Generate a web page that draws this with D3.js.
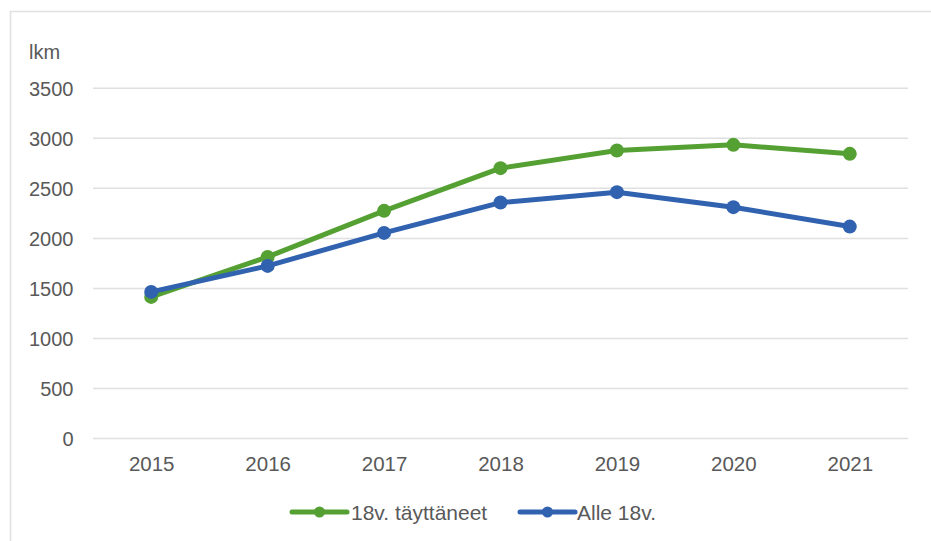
<!DOCTYPE html>
<html>
<head>
<meta charset="utf-8">
<script src="https://cdn.jsdelivr.net/npm/d3@7"></script>
<style>
html,body{margin:0;padding:0;background:#fff;}
svg{display:block;}
text{font-family:"Liberation Sans",Arial,sans-serif;fill:#595959;}
</style>
</head>
<body>
<svg id="chart" width="931" height="541"></svg>
<script>
const years = ["2015","2016","2017","2018","2019","2020","2021"];
const adults = [1415, 1815, 2275, 2702, 2878, 2935, 2845];
const minors = [1465, 1725, 2055, 2358, 2462, 2312, 2118];
const yTicks = [0, 500, 1000, 1500, 2000, 2500, 3000, 3500];
const seriesNames = ["18v. täyttäneet", "Alle 18v."];
const unitLabel = "lkm";

const colors = ["#55a033", "#3162b0"];
const series = [
  {name: seriesNames[0], values: adults, color: colors[0]},
  {name: seriesNames[1], values: minors, color: colors[1]}
];

const svg = d3.select("#chart");
const FONT = '"Liberation Sans",Arial,sans-serif';

// outer border
svg.append("rect")
  .attr("x", 10.5).attr("y", 11.5)
  .attr("width", 960).attr("height", 560)
  .attr("fill", "none").attr("stroke", "#e0e0e0").attr("stroke-width", 1.5);

const plot = {left: 93, right: 908, top: 88.3, bottom: 438.5};

const x = d3.scalePoint().domain(years).range([plot.left, plot.right]).padding(0.5);
const y = d3.scaleLinear().domain([0, 3500]).range([plot.bottom, plot.top]);

// gridlines
svg.append("g").selectAll("line").data(yTicks).join("line")
  .attr("x1", plot.left).attr("x2", plot.right)
  .attr("y1", d => y(d)).attr("y2", d => y(d))
  .attr("stroke", "#e0e0e0").attr("stroke-width", 1.5);

// y axis labels
const yAxis = d3.axisLeft(y).tickValues(yTicks).tickFormat(d3.format("d")).tickSize(0).tickPadding(0);
const yg = svg.append("g").attr("transform", `translate(73.5,0)`).call(yAxis);
yg.select(".domain").remove();
yg.selectAll("text").attr("font-size", 20).attr("fill", "#595959")
  .attr("font-family", FONT).attr("dy", "0.36em");

// x axis labels
const xAxis = d3.axisBottom(x).tickSize(0).tickPadding(0);
const xg = svg.append("g").attr("transform", `translate(0,456)`).call(xAxis);
xg.select(".domain").remove();
xg.selectAll("text").attr("font-size", 20.5).attr("fill", "#595959")
  .attr("font-family", FONT).attr("dy", "0.72em");

// unit label
svg.append("text").attr("x", 29).attr("y", 58.5).attr("font-size", 20).text(unitLabel);

// lines
const line = d3.line().x((d, i) => x(years[i])).y(d => y(d));
series.forEach(s => {
  svg.append("path").datum(s.values)
    .attr("d", line).attr("fill", "none")
    .attr("stroke", s.color).attr("stroke-width", 5)
    .attr("stroke-linejoin", "round").attr("stroke-linecap", "round");
  svg.append("g").selectAll("circle").data(s.values).join("circle")
    .attr("cx", (d, i) => x(years[i])).attr("cy", d => y(d))
    .attr("r", 7).attr("fill", s.color);
});

// legend
const legendItems = [
  {x1: 292, x2: 347, tx: 351},
  {x1: 520, x2: 575, tx: 577}
];
const ly = 512;
series.forEach((s, i) => {
  const L = legendItems[i];
  svg.append("line").attr("x1", L.x1).attr("x2", L.x2).attr("y1", ly).attr("y2", ly)
    .attr("stroke", s.color).attr("stroke-width", 5).attr("stroke-linecap", "round");
  svg.append("circle").attr("cx", (L.x1 + L.x2) / 2).attr("cy", ly).attr("r", 5.5).attr("fill", s.color);
  svg.append("text").attr("x", L.tx).attr("y", ly).attr("dy", "0.36em")
    .attr("font-size", 21).text(s.name);
});
</script>
</body>
</html>
